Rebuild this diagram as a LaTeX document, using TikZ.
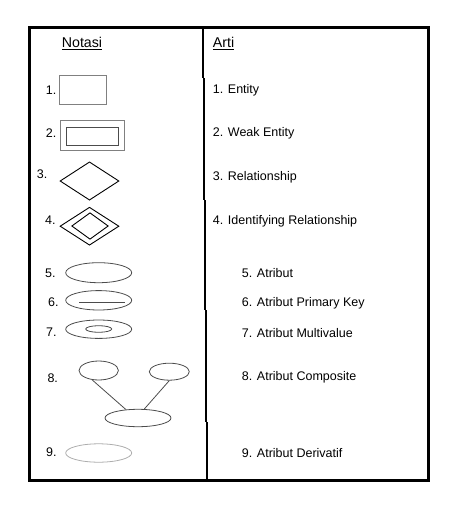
\documentclass[tikz,border=0pt]{standalone}
\usepackage{fontspec}
\setmainfont{Liberation Sans}
\usetikzlibrary{shapes.geometric}
\definecolor{rectgray}{gray}{0.5}
\definecolor{ovalgray}{gray}{0.3}
\definecolor{derivgray}{gray}{0.68}

\begin{document}
\begin{tikzpicture}
[x=1pt,y=-1pt,font=\fontsize{12.5}{15}\selectfont,
 lbl/.style={anchor=base west,inner sep=0},
 head/.style={lbl,font=\fontsize{14.2}{17}\selectfont},
 ent/.style={draw=rectgray,line width=1pt,inner sep=0},
 rel/.style={diamond,draw,line width=0.9pt,inner sep=0},
 atr/.style={ellipse,draw=ovalgray,line width=0.8pt,inner sep=0}]
\useasboundingbox (0,0) rectangle (462,512);
\draw[line width=3pt] (29,27.5) rectangle (428.5,480.5);
\draw[line width=2pt] (203.3,29)--(203.3,78);\draw[line width=2pt] (204,78)--(204,200);
\draw[line width=2pt] (205,200)--(205,310);\draw[line width=2pt] (206,310)--(206,422);
\draw[line width=2pt] (207,422)--(207,479);
\node[head] (notasi) at (61.7,47.5) {\underline{Notasi}};
\node[head] (arti) at (212.7,47.5) {\underline{Arti}};
\foreach \n/\x/\y in {1/45.7/94,2/45.7/137,3/36.7/178,4/45/224,5/45/277,6/48/306,7/46/336,8/47.3/382.5,9/46/456.5}
  \node[lbl] (num\n) at (\x,\y) {\n.};
\foreach \n/\x/\y/\t in {1/212.7/93.5/Entity,2/212.7/136.5/Weak Entity,3/212.7/180/Relationship,4/212.7/224.5/Identifying Relationship,
  5/241.7/277/Atribut,6/241.7/306/Atribut Primary Key,7/241.7/337/Atribut Multivalue,8/241.7/380.5/Atribut Composite,9/241.7/457.5/Atribut Derivatif}
  \node[lbl] (arti\n) at (\x,\y) {\n. \t};
% entity
\node[ent,minimum width=46.7pt,minimum height=28.6pt] (entity) at (83.3,90) {};
\node[ent,minimum width=64pt,minimum height=29.7pt] (weakout) at (92,135.8) {};
\node[ent,draw=ovalgray,minimum width=52.3pt,minimum height=17.7pt] (weakin) at (92.2,136.2) {};
% relationship
\node[rel,minimum width=59pt,minimum height=38.3pt] (relship) at (89.5,181) {};
\node[rel,minimum width=59pt,minimum height=38pt] (idrelout) at (89.5,226.2) {};
\node[rel,minimum width=36.6pt,minimum height=26.6pt] (idrelin) at (90,226) {};
% atribut
\node[atr,minimum width=66pt,minimum height=20pt] (atr) at (98.7,272.7) {};
\node[atr,minimum width=66pt,minimum height=19.4pt] (atrpk) at (98.7,300.3) {};
\draw[ovalgray,line width=0.8pt] (79.3,302.3)--(125,302.3);
\node[atr,minimum width=66pt,minimum height=18.4pt] (multi) at (98.7,329.2) {};
\node[atr,minimum width=26pt,minimum height=6.6pt] (multiin) at (98.7,329) {};
\node[atr,minimum width=39.4pt,minimum height=19pt] (cmpA) at (98.7,370.5) {};
\node[atr,minimum width=40pt,minimum height=17pt] (cmpB) at (169.3,371.7) {};
\node[atr,minimum width=66pt,minimum height=17.4pt] (cmpC) at (138,418) {};
\draw[ovalgray,line width=0.8pt] (cmpA.235)--(cmpC.145);
\draw[ovalgray,line width=0.8pt] (cmpB.south)--(cmpC.55);
\node[atr,draw=derivgray,minimum width=66pt,minimum height=18.4pt] (deriv) at (98.7,453) {};
\end{tikzpicture}
\end{document}
